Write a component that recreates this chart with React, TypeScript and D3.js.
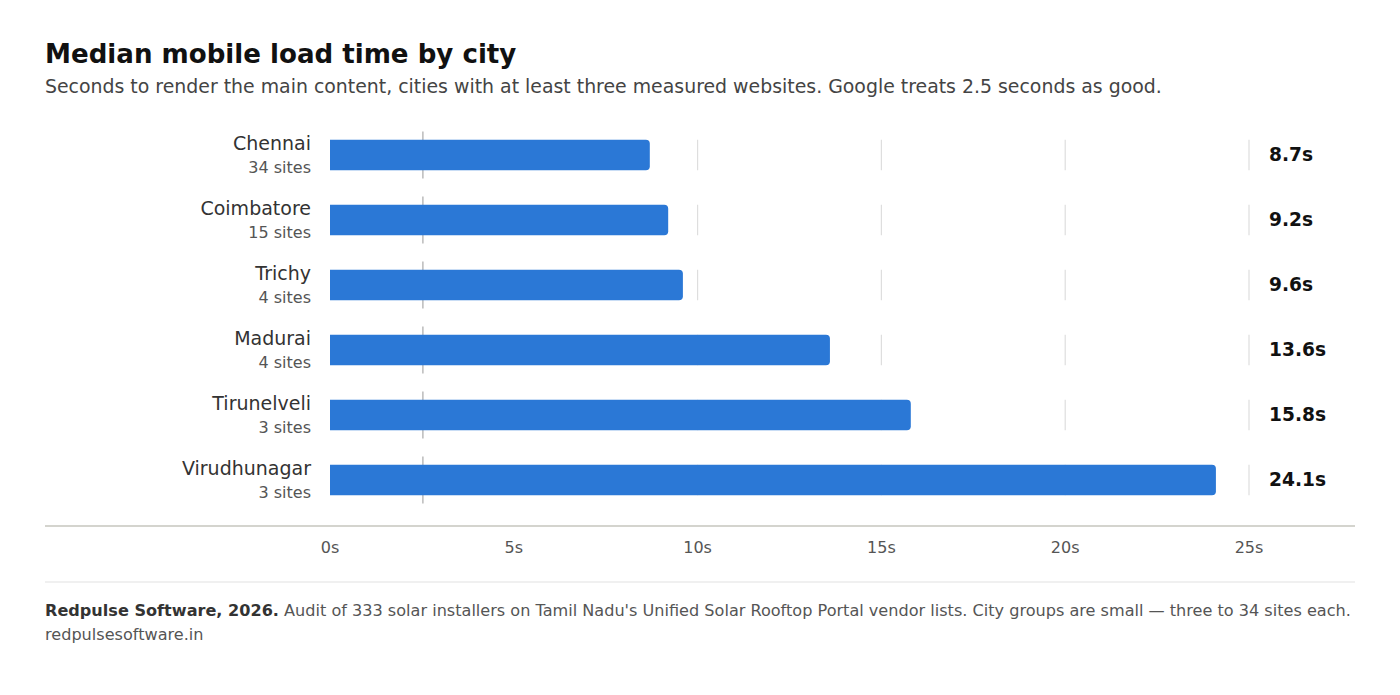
import React from "react";
import * as d3 from "d3";

const cities = ["Chennai", "Coimbatore", "Trichy", "Madurai", "Tirunelveli", "Virudhunagar"];
const siteCounts = [34, 15, 4, 4, 3, 3];
const loadTimes = [8.7, 9.2, 9.6, 13.6, 15.8, 24.1];
const ticks = [0, 5, 10, 15, 20, 25];
const goodThreshold = 2.5;

const W = 1400;
const H = 695;
const FONT = "'DejaVu Sans', Verdana, sans-serif";

export default function App() {
  const x = d3.scaleLinear().domain([0, 25]).range([330, 1249]);
  const y = d3.scaleBand<string>().domain(cities).range([122.5, 512.5]).paddingInner(0).paddingOuter(0);
  const barH = 30.5;
  const rowSeg = 47;

  const barPath = (x0: number, x1: number, yc: number, h: number, r: number) => {
    const p = d3.path();
    const t = yc - h / 2;
    const b = yc + h / 2;
    p.moveTo(x0, t);
    p.lineTo(x1 - r, t);
    p.arcTo(x1, t, x1, t + r, r);
    p.lineTo(x1, b - r);
    p.arcTo(x1, b, x1 - r, b, r);
    p.lineTo(x0, b);
    p.closePath();
    return p.toString();
  };

  return (
    <div style={{ margin: -8 }}>
      <svg width={W} height={H} style={{ display: "block", background: "#fff" }} fontFamily={FONT}>
        <text x={45} y={63} fontSize={26.1} fontWeight="bold" fill="#111">
          Median mobile load time by city
        </text>
        <text x={45} y={93} fontSize={18.9} fill="#444">
          Seconds to render the main content, cities with at least three measured websites. Google treats 2.5 seconds as good.
        </text>

        {cities.map((c, i) => {
          const yc = (y(c) as number) + y.bandwidth() / 2;
          return (
            <g key={c}>
              {ticks.slice(2).map((t) => (
                <line key={t} x1={x(t)} x2={x(t)} y1={yc - barH / 2} y2={yc + barH / 2} stroke="#dedede" strokeWidth={1.2} />
              ))}
              <line x1={x(goodThreshold) + 1} x2={x(goodThreshold) + 1} y1={yc - rowSeg / 2} y2={yc + rowSeg / 2} stroke="#aaa" strokeWidth={1.2} />
              <path d={barPath(x(0), x(loadTimes[i]), yc, barH, 4)} fill="#2b78d6" />
              <text x={311} y={yc - 5.5} textAnchor="end" fontSize={19} fill="#333">
                {c}
              </text>
              <text x={311} y={yc + 17.5} textAnchor="end" fontSize={16} fill="#555">
                {siteCounts[i]} sites
              </text>
              <text x={1269} y={yc + 5.8} fontSize={18.6} fontWeight="bold" fill="#111">
                {loadTimes[i].toFixed(1)}s
              </text>
            </g>
          );
        })}

        <line x1={45} x2={1355} y1={526} y2={526} stroke="#c6c6be" strokeWidth={1.5} />
        {ticks.map((t) => (
          <text key={t} x={x(t)} y={553} textAnchor="middle" fontSize={16} fill="#555">
            {t}s
          </text>
        ))}
        <line x1={45} x2={1355} y1={582} y2={582} stroke="#e2e2e2" strokeWidth={1.2} />

        <text x={45} y={616} fontSize={16.1} fill="#555">
          <tspan fontWeight="bold" fill="#333">Redpulse Software, 2026.</tspan>
          <tspan> Audit of 333 solar installers on Tamil Nadu's Unified Solar Rooftop Portal vendor lists. City groups are small — three to 34 sites each.</tspan>
        </text>
        <text x={45} y={640} fontSize={16.1} fill="#555">
          redpulsesoftware.in
        </text>
      </svg>
    </div>
  );
}
